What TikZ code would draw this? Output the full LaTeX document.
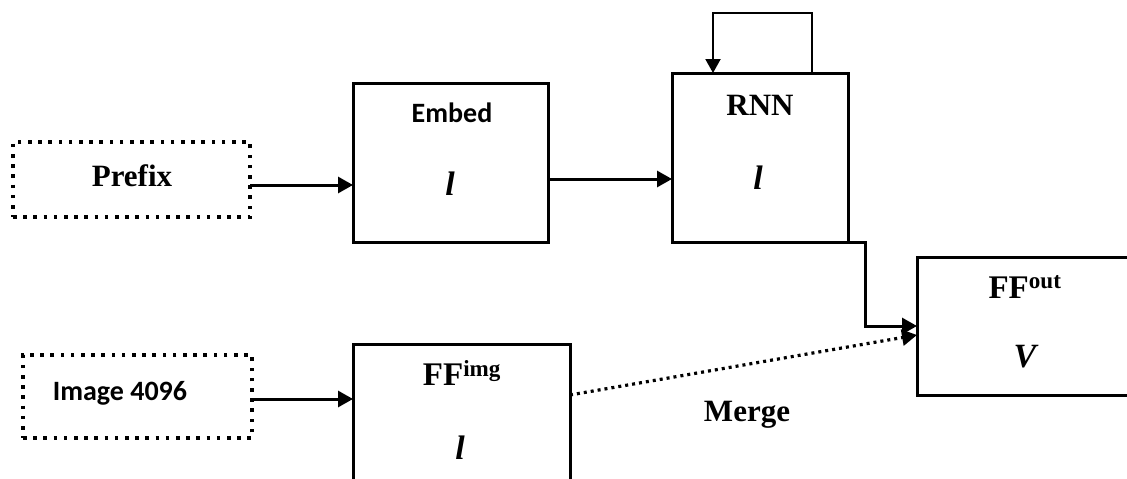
\documentclass[tikz,border=0pt]{standalone}
\usepackage{fontspec}
\setmainfont{Liberation Serif}
\newfontfamily\calib{Carlito}
\usetikzlibrary{arrows.meta}
\begin{document}
\begin{tikzpicture}[x=1pt,y=-1pt,
  blk/.style={draw, line width=3pt, inner sep=0pt, outer sep=0pt, anchor=north west},
  dotbox/.style={draw, line width=3.6pt, dash pattern=on 3.6pt off 6.6pt, inner sep=0pt, outer sep=0pt, anchor=north west},
  arr/.style={line width=3pt, -{Triangle[length=15pt,width=16pt]}},
  looparr/.style={line width=2pt, -{Triangle[length=14pt,width=15pt]}},
  mergearr/.style={line width=3.2pt, dash pattern=on 3pt off 4pt, -{Triangle[length=15pt,width=16pt]}},
  sb/.style={inner sep=0pt, font=\fontsize{31}{34}\selectfont\bfseries},
  ff/.style={inner sep=0pt, font=\fontsize{33}{36}\selectfont\bfseries},
  var/.style={inner sep=0pt, font=\fontsize{34}{38}\selectfont\bfseries\itshape},
  cb/.style={inner sep=0pt, font=\fontsize{28}{32}\selectfont\calib\bfseries}]
\useasboundingbox (0,0) rectangle (1127,479);
\clip (0,0) rectangle (1127,479);
% boxes
\node[dotbox, minimum width=237pt, minimum height=75pt] (prefix) at (13,142) {};
\node[dotbox, minimum width=229pt, minimum height=83pt] (image) at (23,355) {};
\node[blk, minimum width=195pt, minimum height=159pt] (embed) at (353,83) {};
\node[blk, minimum width=176pt, minimum height=169pt] (rnn) at (672,73) {};
\node[blk, minimum width=217pt, minimum height=216pt] (ffimg) at (353,344) {};
\node[blk, minimum width=218pt, minimum height=138pt] (ffout) at (917,257) {};
% texts
\node[sb] (tprefix) at (132,176) {Prefix};
\node[cb] (timage) at (120,393) {Image 4096};
\node[cb] (tembed) at (452,113) {Embed};
\node[var] (lembed) at (450,184) {l};
\node[sb] (trnn) at (760,105) {RNN};
\node[var] (lrnn) at (758,178) {l};
\node[ff] (tffimg) at (462,373) {FF\textsuperscript{img}};
\node[var] (lffimg) at (460,448) {l};
\node[ff] (tffout) at (1025,287) {FF\textsuperscript{out}};
\node[var] (vffout) at (1025,357) {V};
\node[sb] (tmerge) at (747,415) {Merge};
% connectors
\coordinate (pa) at ([yshift=-5.5pt]prefix.east);
\draw[arr] (pa) -- (pa -| embed.west);
\coordinate (ea) at ([yshift=-16.5pt]embed.east);
\draw[arr] (ea) -- (ea -| rnn.west);
\coordinate (ia) at ([yshift=-2.5pt]image.east);
\draw[arr] (ia) -- (ia -| ffimg.west);
\draw[looparr] ([xshift=52pt]rnn.north) -- ++(0,60pt) -| ([xshift=-47pt]rnn.north);
\draw[arr] (rnn.south east) -- ++(17pt,0) |- (ffout.west);
\coordinate (ma) at ([yshift=-51pt]ffimg.north east);
\draw[mergearr] (ma) -- ([yshift=-9pt]ffout.west);
\end{tikzpicture}
\end{document}
